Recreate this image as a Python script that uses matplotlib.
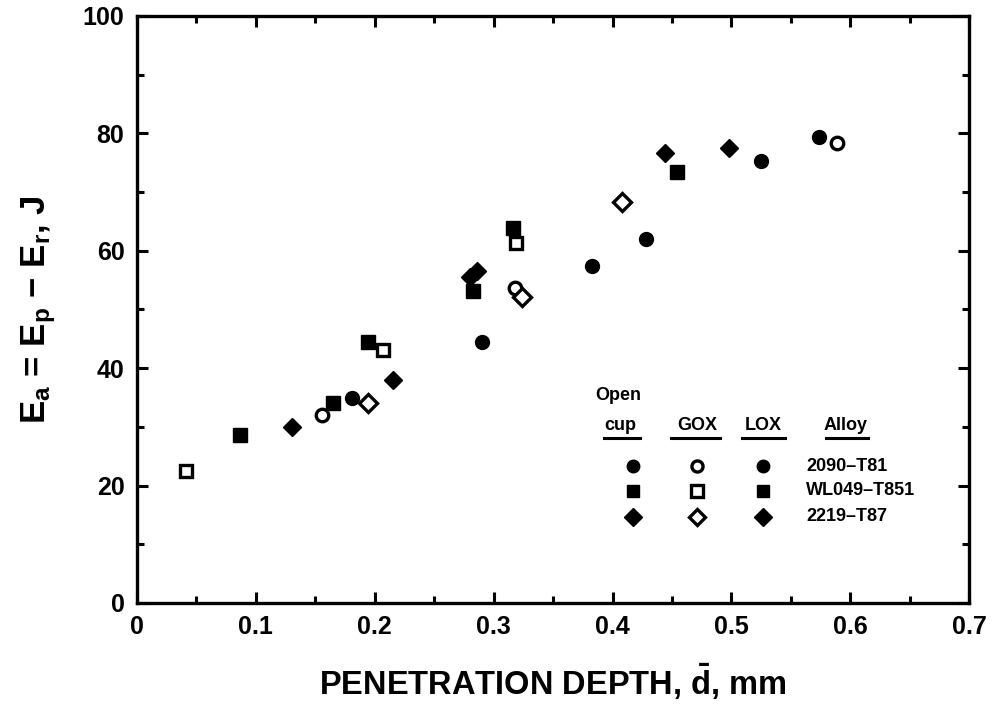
import matplotlib.pyplot as plt
from matplotlib.ticker import MultipleLocator, FuncFormatter

plt.rcParams["font.family"] = "Liberation Sans"
plt.rcParams["font.weight"] = "bold"
plt.rcParams["axes.labelweight"] = "bold"
plt.rcParams["mathtext.fontset"] = "custom"
plt.rcParams["mathtext.rm"] = "Liberation Sans:bold"
plt.rcParams["mathtext.it"] = "Liberation Sans:bold"
plt.rcParams["mathtext.bf"] = "Liberation Sans:bold"
plt.rcParams["mathtext.default"] = "bf"

# penetration depth (mm) and absorbed energy (J) per test condition / alloy
opencup_2090_x = [0.181, 0.290, 0.383]
opencup_2090_y = [34.9, 44.5, 57.4]
opencup_wl049_x = [0.165, 0.194, 0.316]
opencup_wl049_y = [34.1, 44.5, 63.9]
opencup_2219_x = [0.130, 0.215, 0.280]
opencup_2219_y = [30.0, 38.0, 55.5]

gox_2090_x = [0.156, 0.318, 0.589]
gox_2090_y = [32.0, 53.7, 78.4]
gox_wl049_x = [0.041, 0.207, 0.319]
gox_wl049_y = [22.5, 43.1, 61.3]
gox_2219_x = [0.194, 0.324, 0.408]
gox_2219_y = [34.1, 52.1, 68.3]

lox_2090_x = [0.428, 0.525, 0.574]
lox_2090_y = [62.0, 75.3, 79.4]
lox_wl049_x = [0.087, 0.283, 0.454]
lox_wl049_y = [28.6, 53.2, 73.4]
lox_2219_x = [0.286, 0.444, 0.498]
lox_2219_y = [56.6, 76.7, 77.5]

alloys = ["2090\u2013T81", "WL049\u2013T851", "2219\u2013T87"]
columns = ["GOX", "LOX", "Alloy"]

fig = plt.figure(figsize=(9.94, 7.11), dpi=100)
ax = fig.add_axes([0.1378, 0.152, 0.8372, 0.8255])

filled = dict(color="black", linestyle="none")
hollow = dict(color="black", markerfacecolor="white", markeredgewidth=2.4, linestyle="none")

ax.plot(opencup_2090_x, opencup_2090_y, marker="o", markersize=10, **filled)
ax.plot(opencup_wl049_x, opencup_wl049_y, marker="s", markersize=9.5, **filled)
ax.plot(opencup_2219_x, opencup_2219_y, marker="D", markersize=9.5, **filled)
ax.plot(gox_2090_x, gox_2090_y, marker="o", markersize=9, **hollow)
ax.plot(gox_wl049_x, gox_wl049_y, marker="s", markersize=9, **hollow)
ax.plot(gox_2219_x, gox_2219_y, marker="D", markersize=9, **hollow)
ax.plot(lox_2090_x, lox_2090_y, marker="o", markersize=10, **filled)
ax.plot(lox_wl049_x, lox_wl049_y, marker="s", markersize=9.5, **filled)
ax.plot(lox_2219_x, lox_2219_y, marker="D", markersize=9.5, **filled)

ax.set_xlim(0, 0.7)
ax.set_ylim(0, 100)
ax.xaxis.set_major_locator(MultipleLocator(0.1))
ax.xaxis.set_minor_locator(MultipleLocator(0.05))
ax.yaxis.set_major_locator(MultipleLocator(20))
ax.yaxis.set_minor_locator(MultipleLocator(10))
ax.xaxis.set_major_formatter(FuncFormatter(lambda v, p: "0" if abs(v) < 1e-9 else f"{v:.1f}"))
ax.tick_params(which="both", direction="in", top=True, right=True, width=2.2,
               labelsize=18, pad=9)
ax.tick_params(which="major", length=8)
ax.tick_params(which="minor", length=5)
for sp in ax.spines.values():
    sp.set_linewidth(2.4)

ax.set_xlabel(r"PENETRATION DEPTH, $\bar{d}$, mm", fontsize=23.5, labelpad=16)
ax.set_ylabel(r"$E_a$ = $E_p$ $-$ $E_r$, J", fontsize=25, labelpad=18)

# legend block drawn by hand, like the original figure
tr = ax.transAxes
lfs = 13
ax.text(0.578, 0.353, "Open", transform=tr, ha="center", va="center", fontsize=lfs)
ax.text(0.581, 0.303, "cup", transform=tr, ha="center", va="center", fontsize=lfs)
for name, xc in zip(columns, [0.673, 0.752, 0.851]):
    ax.text(xc, 0.303, name, transform=tr, ha="center", va="center", fontsize=lfs)
for x0, x1 in [(0.561, 0.604), (0.642, 0.701), (0.727, 0.779), (0.828, 0.879)]:
    ax.plot([x0, x1], [0.281, 0.281], transform=tr, color="black", lw=2.2, clip_on=False)

row_y = [0.233, 0.191, 0.147]
row_marker = ["o", "s", "D"]
for name, yy, mk in zip(alloys, row_y, row_marker):
    ax.plot([0.596], [yy], marker=mk, markersize=9, transform=tr, **filled)
    ax.plot([0.673], [yy], marker=mk, markersize=8, transform=tr, **hollow)
    ax.plot([0.752], [yy], marker=mk, markersize=9, transform=tr, **filled)
    ax.text(0.804, yy, name, transform=tr, ha="left", va="center", fontsize=lfs)

fig.savefig("out.png", dpi=100)
